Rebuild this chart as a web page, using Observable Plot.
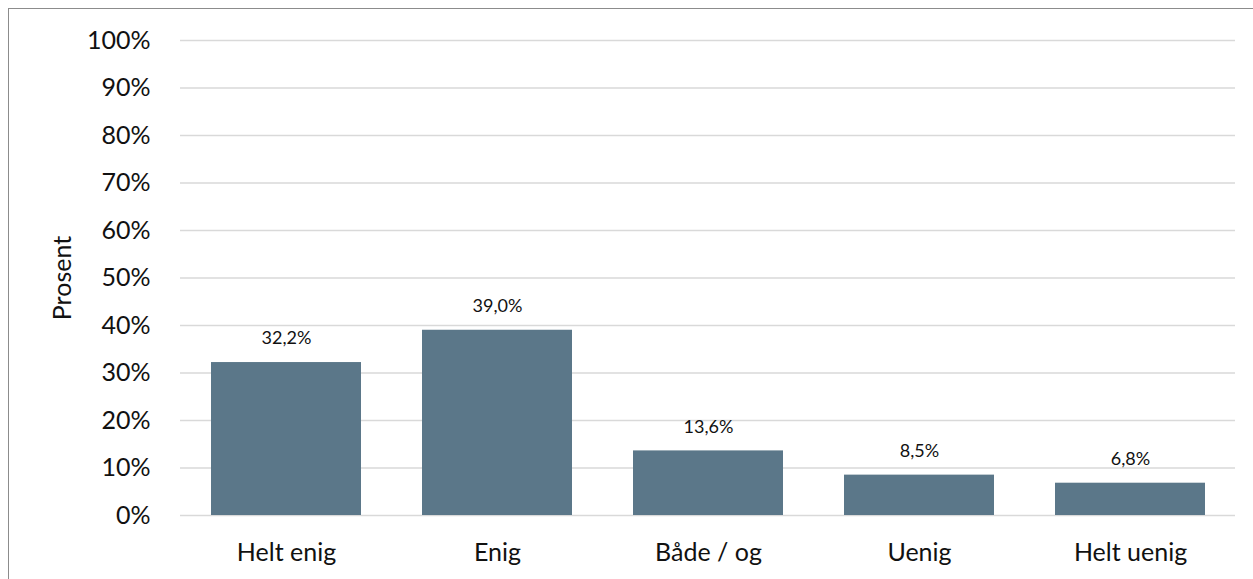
<!DOCTYPE html>
<html>
<head>
<meta charset="utf-8">
<script src="https://cdn.jsdelivr.net/npm/d3@7"></script>
<script src="https://cdn.jsdelivr.net/npm/@observablehq/plot@0.6"></script>
<style>
  html, body { margin: 0; padding: 0; background: #fff; overflow: hidden; }
  #frame { position: absolute; left: 8px; top: 8px; width: 1260px; height: 600px; border: 1.5px solid #8c8c8c; box-sizing: border-box; }
  #chart { position: absolute; left: 0; top: 0; }
</style>
</head>
<body>
<div id="frame"></div>
<div id="chart"></div>
<script>
const categories = ["Helt enig", "Enig", "Både / og", "Uenig", "Helt uenig"];
const values = [32.2, 39.0, 13.6, 8.5, 6.8];
const yTicks = [0, 10, 20, 30, 40, 50, 60, 70, 80, 90, 100];

const data = categories.map((c, i) => ({category: c, value: values[i]}));
const fmt = v => v.toFixed(1).replace(".", ",") + "%";

const chart = Plot.plot({
  width: 1253,
  height: 579,
  marginLeft: 180,
  marginRight: 18,
  marginTop: 40,
  marginBottom: 64,
  style: {fontFamily: "Lato, 'Open Sans', sans-serif", background: "transparent", overflow: "visible"},
  x: {domain: categories, paddingInner: 0.29, paddingOuter: 0.145, label: null},
  y: {domain: [0, 100], label: null},
  marks: [
    Plot.ruleY(yTicks, {stroke: "#d9d9d9", strokeWidth: 1.5}),
    Plot.barY(data, {x: "category", y: "value", fill: "#5b7789"}),
    Plot.text(data, {x: "category", y: "value", text: d => fmt(d.value), dy: -24, fontSize: 18, fill: "#111"}),
    Plot.axisY(yTicks, {tickSize: 0, tickPadding: 30, fontSize: 25, fill: "#111", tickFormat: d => d + "%", label: null}),
    Plot.axisX({tickSize: 0, tickPadding: 28, fontSize: 25, fill: "#111", label: null}),
    Plot.text(["Prosent"], {frameAnchor: "left", dx: -118, rotate: -90, textAnchor: "middle", fontSize: 25, fill: "#111"})
  ]
});
document.getElementById("chart").appendChild(chart);
</script>
</body>
</html>
